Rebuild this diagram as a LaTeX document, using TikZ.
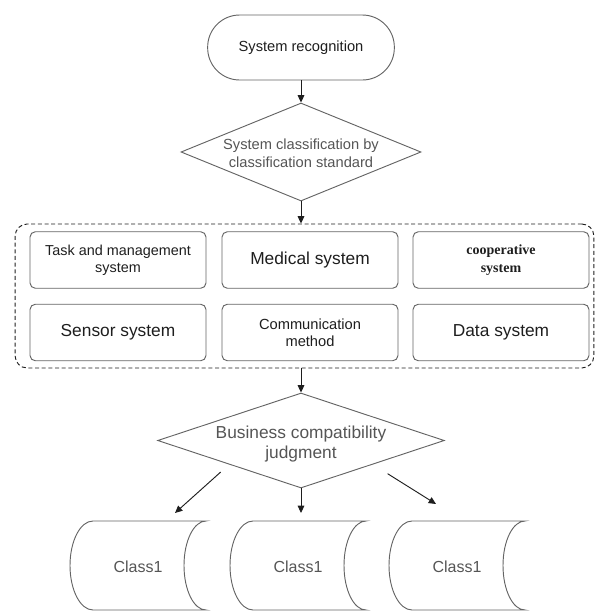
\documentclass[tikz,border=0pt]{standalone}
\usepackage{fontspec}
\setmainfont{Liberation Sans}
\newfontfamily\coopfont{Liberation Serif}
\usepackage{tikz}
\usetikzlibrary{shapes.geometric,arrows.meta,calc}
\usepackage{xcolor}
\definecolor{mydark}{RGB}{30,30,30}
\definecolor{mygray}{RGB}{100,100,100}
\definecolor{mytext}{RGB}{85,85,85}
\tikzset{
  term/.style={rectangle,draw=mygray,line width=0.7pt,rounded corners=24pt,
    minimum width=140pt,minimum height=48.75pt,text=mydark,font=\fontsize{11}{13}\selectfont},
  decision/.style={diamond,draw=mygray,line width=0.7pt,inner sep=0pt},
  diatext/.style={align=center,text=mytext},
  grpbox/.style={rectangle,draw=mydark,line width=0.7pt,dash pattern=on 3pt off 2pt,
    rounded corners=9pt,minimum width=434pt,minimum height=108pt},
  sysbox/.style={rectangle,draw=mygray,line width=0.7pt,rounded corners=4pt,
    minimum width=132pt,minimum height=42.4pt,align=center,text=mydark,inner sep=2pt},
  flow/.style={-{Triangle[length=5.5pt,width=5pt]},line width=0.7pt,color=mydark},
  store/.style={draw=mygray,line width=0.7pt},
  storelab/.style={text=mytext,font=\fontsize{12}{14}\selectfont},
}
% stored data symbol: #1 name, #2 left x
\newcommand{\classstore}[2]{%
  \begin{scope}[shift={(#2,521)}]
    \draw[store] (23,0) -- (136,0)
      .. controls (123.8,0) and (114,20) .. (114,44.5)
      .. controls (114,69) and (123.8,89) .. (136,89) -- (23,89)
      .. controls (10.3,89) and (0,69) .. (0,44.5)
      .. controls (0,20) and (10.3,0) .. cycle;
    \node[storelab] (#1) at (68,46) {Class1};
  \end{scope}}

\begin{document}
\begin{tikzpicture}[x=0.75pt,y=-0.75pt]
  \useasboundingbox (0,0) rectangle (595,611);

  \node[term] (start) at (301,47.5) {System recognition};

  \node[decision,minimum width=180pt,minimum height=73.5pt,
    label={[diatext,font=\fontsize{11}{13.5}\selectfont,yshift=-1pt]center:System classification by\\classification standard}]
    (classify) at (301,152) {};

  % classification standard group
  \node[grpbox] (group) at (304.5,296) {};
  \node[sysbox,font=\fontsize{10.8}{13}\selectfont] (task) at (118,260) {Task and management\\system};
  \node[sysbox,font=\fontsize{13}{15}\selectfont] (medical) at (310,260) {Medical system};
  \node[sysbox,font=\coopfont\bfseries\fontsize{10.5}{13}\selectfont] (coop) at (501,260) {cooperative\\system};
  \node[sysbox,font=\fontsize{13}{15}\selectfont] (sensor) at (118,332.5) {Sensor system};
  \node[sysbox,font=\fontsize{11}{13}\selectfont] (comm) at (310,332.5) {Communication\\method};
  \node[sysbox,font=\fontsize{13}{15}\selectfont] (data) at (501,332.5) {Data system};

  \node[decision,minimum width=215pt,minimum height=71.25pt,
    label={[diatext,font=\fontsize{13}{15}\selectfont,yshift=-3pt]center:Business compatibility\\judgment}]
    (judge) at (301,440.5) {};

  \classstore{classa}{70}
  \classstore{classb}{230}
  \classstore{classc}{389}

  \coordinate (enda) at (175,513);
  \coordinate (endb) at (301,513);
  \coordinate (endc) at (436,504);

  \draw[flow] (start.south) -- (classify.north);
  \draw[flow] (classify.south) -- (classify.south |- group.north);
  \draw[flow] (group.south -| judge.north) -- (judge.north);
  \draw[flow,shorten <=8.5pt] (judge.south west) -- (enda);
  \draw[flow] (judge.south) -- (endb);
  \draw[flow,shorten <=13pt] (judge.south east) -- (endc);
\end{tikzpicture}
\end{document}
